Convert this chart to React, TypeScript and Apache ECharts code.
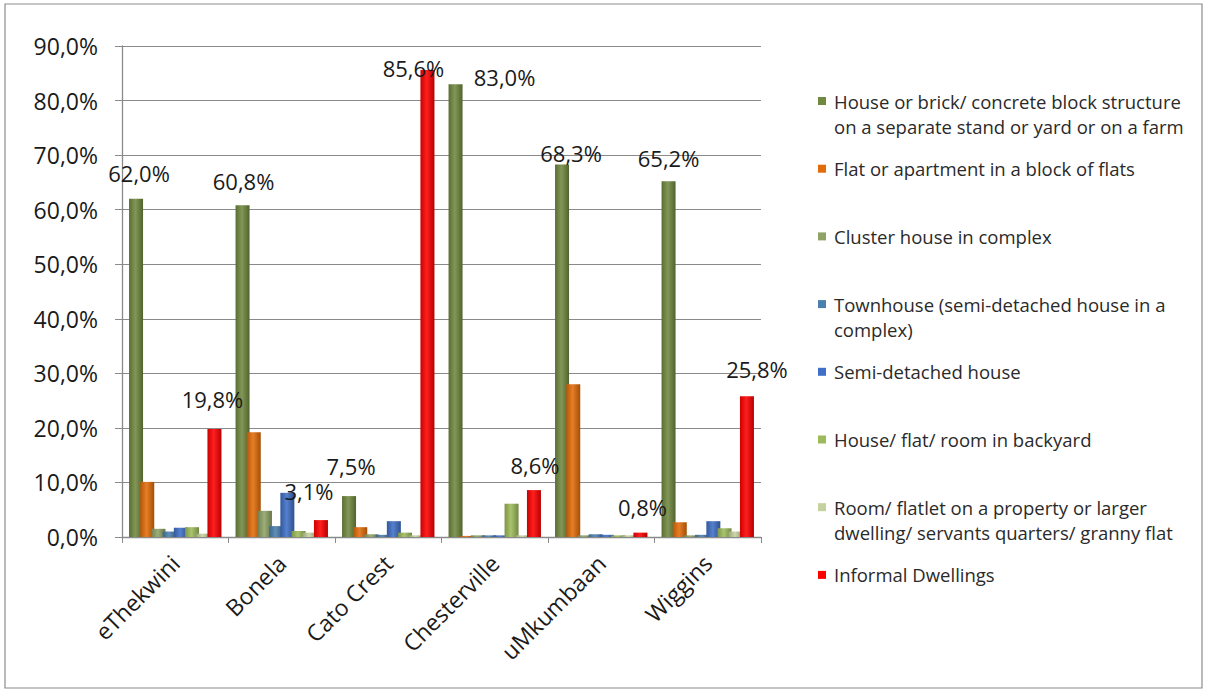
import React, { useEffect, useRef } from 'react';
import * as echarts from 'echarts';

// Dwelling types by area (percent of households)
const categories = ['eThekwini', 'Bonela', 'Cato Crest', 'Chesterville', 'uMkumbaan', 'Wiggins'];

const seriesLabels = [
  'House or brick/ concrete block structure\non a separate stand or yard or on a farm',
  'Flat or apartment in a block of flats',
  'Cluster house in complex',
  'Townhouse (semi-detached house in a\ncomplex)',
  'Semi-detached house',
  'House/ flat/ room in backyard',
  'Room/ flatlet on a property or larger\ndwelling/ servants quarters/ granny flat',
  'Informal Dwellings',
];

const houseBrick = [62.0, 60.8, 7.5, 83.0, 68.3, 65.2];
const flatApartment = [10.1, 19.2, 1.8, 0.2, 28.0, 2.7];
const clusterHouse = [1.5, 4.8, 0.5, 0.3, 0.3, 0.3];
const townhouse = [1.0, 2.0, 0.4, 0.3, 0.5, 0.4];
const semiDetached = [1.7, 8.1, 2.9, 0.3, 0.4, 2.9];
const backyard = [1.8, 1.1, 0.8, 6.1, 0.3, 1.6];
const roomFlatlet = [0.6, 0.8, 0.3, 0.3, 0.3, 1.0];
const informal = [19.8, 3.1, 85.6, 8.6, 0.8, 25.8];

const seriesValues = [
  houseBrick, flatApartment, clusterHouse, townhouse,
  semiDetached, backyard, roomFlatlet, informal,
];

const colors = [
  '#71893F', '#E36C09', '#8FA366', '#4A7FAE',
  '#3F6FC6', '#9DBB5A', '#C5D19E', '#FF0000',
];

const yTicks = { min: 0, max: 90, interval: 10 };

// label nudges for the two labelled series (house, informal)
const labelNudgeHouse = [[3, -10], [1, -8], [2, -14], [49, 9], [9, 5], [0, -7]];
const labelNudgeInformal = [[-2, -14], [-12, -13], [-14, 14], [1, -9], [2, -10], [10, -11]];

const FONT = '"Open Sans", "Noto Sans", sans-serif';

const fmtPct = (v: number) => v.toFixed(1).replace('.', ',') + '%';

function shade(hex: string, f: number) {
  const n = parseInt(hex.slice(1), 16);
  let r = (n >> 16) & 255, g = (n >> 8) & 255, b = n & 255;
  const adj = (c: number) => {
    const v = f < 0 ? c * (1 + f) : c + (255 - c) * f;
    return Math.max(0, Math.min(255, Math.round(v)));
  };
  r = adj(r); g = adj(g); b = adj(b);
  return '#' + ((1 << 24) + (r << 16) + (g << 8) + b).toString(16).slice(1);
}

function barFill(c: string) {
  return new echarts.graphic.LinearGradient(0, 0, 1, 0, [
    { offset: 0, color: shade(c, -0.2) },
    { offset: 0.45, color: shade(c, 0.12) },
    { offset: 1, color: shade(c, -0.28) },
  ]);
}

function buildOption() {
  const series = seriesValues.map((vals, si) => {
    const labelled = si === 0 || si === 7;
    const nudge = si === 0 ? labelNudgeHouse : labelNudgeInformal;
    return {
      type: 'bar',
      name: seriesLabels[si].replace('\n', ' '),
      barWidth: 14,
      barGap: '-20%',
      itemStyle: { color: barFill(colors[si]) },
      label: labelled
        ? {
            show: true,
            position: 'top',
            distance: 5,
            fontSize: 22,
            fontFamily: FONT,
            color: '#1a1a1a',
            formatter: (p: any) => fmtPct(p.value),
          }
        : { show: false },
      data: vals.map((v, i) =>
        labelled ? { value: v, label: { offset: nudge[i] } } : v
      ),
    };
  });

  // hand-built legend: swatch + (possibly two-line) text per series
  const legendFirstY = 101;
  const legendStep = 67.7;
  const lineH = 25;
  const legendItems: any[] = [];
  seriesLabels.forEach((txt, i) => {
    const y = legendFirstY + i * legendStep;
    legendItems.push({
      type: 'rect',
      shape: { x: 818, y: y - 4, width: 8, height: 8 },
      style: { fill: colors[i] },
    });
    legendItems.push({
      type: 'text',
      x: 834,
      y: y - lineH / 2,
      style: {
        text: txt,
        fontSize: 18.5,
        fontFamily: FONT,
        fill: '#2a2a2a',
        lineHeight: lineH,
        verticalAlign: 'top',
      },
    });
  });

  return {
    animation: false,
    backgroundColor: '#ffffff',
    grid: { left: 122, right: 447, top: 46, bottom: 156, containLabel: false },
    xAxis: {
      type: 'category',
      data: categories,
      axisLine: { lineStyle: { color: '#8a8a8a', width: 1.3 } },
      axisTick: { show: true, length: 6, lineStyle: { color: '#8a8a8a' } },
      axisLabel: {
        rotate: 45,
        margin: 22,
        fontSize: 23,
        fontFamily: FONT,
        color: '#1a1a1a',
      },
    },
    yAxis: {
      type: 'value',
      min: yTicks.min,
      max: yTicks.max,
      interval: yTicks.interval,
      axisLine: { show: true, lineStyle: { color: '#8a8a8a', width: 1.3 } },
      axisTick: { show: true, length: 7, lineStyle: { color: '#8a8a8a' } },
      splitLine: { lineStyle: { color: '#8a8a8a', width: 1.2 } },
      axisLabel: {
        margin: 24,
        fontSize: 23,
        fontFamily: FONT,
        color: '#1a1a1a',
        formatter: (v: number) => fmtPct(v),
      },
    },
    series,
    graphic: [
      {
        type: 'rect',
        shape: { x: 5, y: 4, width: 1197, height: 684 },
        style: { fill: 'none', stroke: '#8c8c8c', lineWidth: 1.2 },
        silent: true,
      },
      ...legendItems,
    ],
  };
}

export default function App() {
  const ref = useRef<HTMLDivElement>(null);
  useEffect(() => {
    const chart = echarts.init(ref.current!, null, { renderer: 'svg' });
    chart.setOption(buildOption() as any);
    return () => chart.dispose();
  }, []);
  return (
    <div
      ref={ref}
      style={{ position: 'fixed', left: 0, top: 0, width: 1208, height: 693, background: '#fff' }}
    />
  );
}
